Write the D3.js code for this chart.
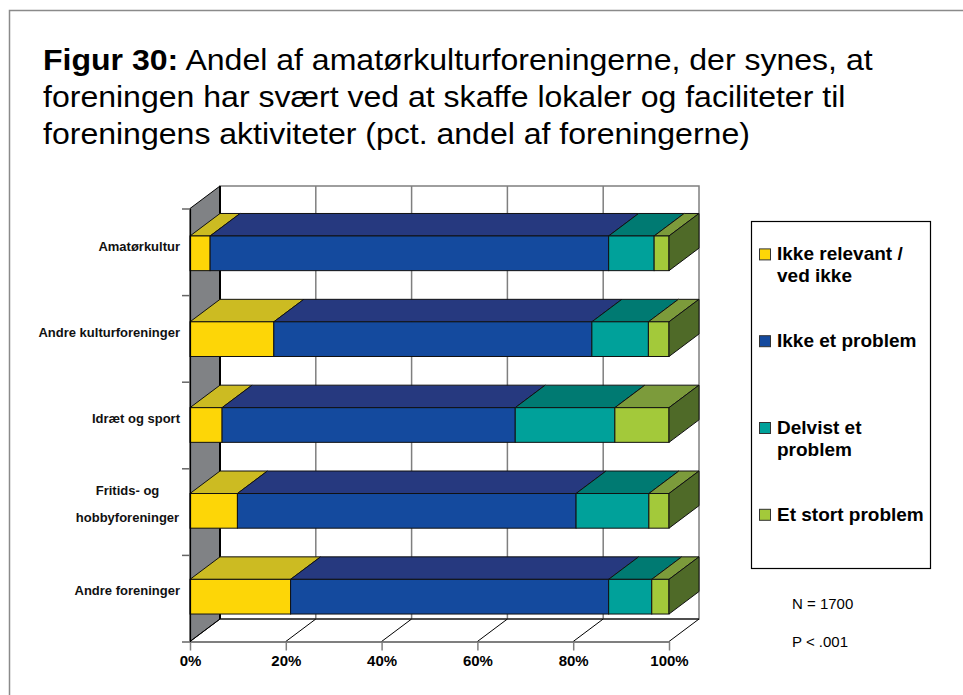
<!DOCTYPE html>
<html>
<head>
<meta charset="utf-8">
<script src="https://cdn.jsdelivr.net/npm/d3@7"></script>
<style>
  body { margin: 0; background: #fff; }
  svg { display: block; font-family: "Liberation Sans", Arial, sans-serif; }
</style>
</head>
<body>
<div id="chart"></div>
<script>
var width = 963;
var height = 695;

// data (pct.)
var categories = ["Amatørkultur", "Andre kulturforeninger", "Idræt og sport", "Fritids- og hobbyforeninger", "Andre foreninger"];
var categoryLines = [["Amatørkultur"], ["Andre kulturforeninger"], ["Idræt og sport"], ["Fritids- og", "hobbyforeninger"], ["Andre foreninger"]];
var seriesNames = ["Ikke relevant / ved ikke", "Ikke et problem", "Delvist et problem", "Et stort problem"];
var seriesLines = [["Ikke relevant /", "ved ikke"], ["Ikke et problem"], ["Delvist et", "problem"], ["Et stort problem"]];
var ikkeRelevant = [4.2, 17.5, 6.7, 9.9, 21.0];
var ikkeProblem = [83.2, 66.4, 61.2, 70.7, 66.4];
var delvistProblem = [9.5, 11.8, 20.8, 15.2, 9.0];
var stortProblem = [3.1, 4.3, 11.3, 4.2, 3.6];
var xTicks = [0, 20, 40, 60, 80, 100];

var frontColors = ["#fdd607", "#144a9e", "#00a19a", "#a3c93a"];
var topColors = ["#ccbb22", "#26397f", "#007a72", "#7c9b3b"];
var sideColor = "#4f6a28";
var wallColor = "#808285";

// 3d depth offset
var dx = 30, dy = -22.5;

var svg = d3.select("#chart").append("svg")
  .attr("width", width)
  .attr("height", height);

// outer frame
svg.append("rect")
  .attr("x", 9.5).attr("y", 10.5)
  .attr("width", 1000).attr("height", 1000)
  .attr("fill", "none")
  .attr("stroke", "#8a8a8a")
  .attr("stroke-width", 1.5);

// title (source text is a little wider than Arial, so stretch it)
var title = svg.append("text")
  .attr("transform", "translate(43,0) scale(1.105,1)")
  .attr("font-size", "29px")
  .attr("fill", "#000");
var t1 = title.append("tspan").attr("x", 0).attr("y", 70);
t1.append("tspan").attr("font-weight", "bold").text("Figur 30:");
t1.append("tspan").text(" Andel af amatørkulturforeningerne, der synes, at");
title.append("tspan").attr("x", 0).attr("y", 107.5)
  .text("foreningen har svært ved at skaffe lokaler og faciliteter til");
title.append("tspan").attr("x", 0).attr("y", 144)
  .text("foreningens aktiviteter (pct. andel af foreningerne)");

var xScale = d3.scaleLinear()
  .domain([0, 100])
  .range([190, 669]);
var yScale = d3.scaleBand()
  .domain(categories)
  .range([208.5, 641.5])
  .paddingInner(0.596)
  .paddingOuter(0.32);
var yEdge = d3.scaleLinear()
  .domain([0, categories.length])
  .range([208.5, 641.5]);

var y0 = yEdge(0), y1 = yEdge(categories.length);
var x0 = xScale(0), x1 = xScale(100);

// back wall
svg.append("rect")
  .attr("x", x0 + dx).attr("y", y0 + dy)
  .attr("width", x1 - x0).attr("height", y1 - y0)
  .attr("fill", "#fff")
  .attr("stroke", "#7f7f7f")
  .attr("stroke-width", 1.5);

svg.selectAll("line.grid")
  .data(xTicks.slice(1, -1))
  .enter().append("line")
    .attr("class", "grid")
    .attr("x1", function(d) { return xScale(d) + dx; })
    .attr("x2", function(d) { return xScale(d) + dx; })
    .attr("y1", y0 + dy)
    .attr("y2", y1 + dy)
    .attr("stroke", "#7f7f7f")
    .attr("stroke-width", 1.5);

// side wall
svg.append("path")
  .attr("d", "M" + x0 + "," + y0 + "L" + (x0 + dx) + "," + (y0 + dy) +
             "L" + (x0 + dx) + "," + (y1 + dy) + "L" + x0 + "," + y1 + "Z")
  .attr("fill", wallColor)
  .attr("stroke", "#000")
  .attr("stroke-width", 1);
svg.append("line")
  .attr("x1", x0 + dx).attr("x2", x0 + dx)
  .attr("y1", y0 + dy).attr("y2", y1 + dy)
  .attr("stroke", "#000").attr("stroke-width", 2);

// floor
svg.append("line")
  .attr("x1", x0 + dx).attr("x2", x1 + dx)
  .attr("y1", y1 + dy).attr("y2", y1 + dy)
  .attr("stroke", "#000").attr("stroke-width", 1.2);
svg.selectAll("line.floor")
  .data(xTicks)
  .enter().append("line")
    .attr("class", "floor")
    .attr("x1", function(d) { return xScale(d); })
    .attr("x2", function(d) { return xScale(d) + dx; })
    .attr("y1", y1)
    .attr("y2", y1 + dy)
    .attr("stroke", "#000")
    .attr("stroke-width", 1);

// stacked segments
var series = [ikkeRelevant, ikkeProblem, delvistProblem, stortProblem];
var rows = categories.map(function(c, i) {
  var row = {category: c};
  seriesNames.forEach(function(s, j) { row[s] = series[j][i]; });
  return row;
});
var stacked = d3.stack().keys(seriesNames)(rows);

var bh = yScale.bandwidth();

stacked.forEach(function(layer, j) {
  var g = svg.append("g");
  layer.forEach(function(d) {
    var cat = d.data.category;
    var xa = xScale(d[0]), xb = xScale(d[1]);
    var yt = yScale(cat), yb = yt + bh;
    // top face
    g.append("path")
      .attr("d", "M" + xa + "," + yt + "L" + (xa + dx) + "," + (yt + dy) +
                 "L" + (xb + dx) + "," + (yt + dy) + "L" + xb + "," + yt + "Z")
      .attr("fill", topColors[j])
      .attr("stroke", "#111")
      .attr("stroke-width", 1)
      .attr("stroke-linejoin", "round");
    // front face
    g.append("rect")
      .attr("x", xa).attr("y", yt)
      .attr("width", xb - xa).attr("height", bh)
      .attr("fill", frontColors[j])
      .attr("stroke", "#111")
      .attr("stroke-width", 1);
    // right side for the last segment
    if (j === seriesNames.length - 1) {
      g.append("path")
        .attr("d", "M" + xb + "," + yt + "L" + (xb + dx) + "," + (yt + dy) +
                   "L" + (xb + dx) + "," + (yb + dy) + "L" + xb + "," + yb + "Z")
        .attr("fill", sideColor)
        .attr("stroke", "#111")
        .attr("stroke-width", 1)
        .attr("stroke-linejoin", "round");
    }
  });
});

// axes
var xAxis = svg.append("g")
  .attr("transform", "translate(0," + y1 + ")")
  .call(d3.axisBottom(xScale).tickValues(xTicks)
    .tickFormat(function(d) { return d + "%"; })
    .tickSize(9).tickSizeOuter(0).tickPadding(5));
xAxis.select(".domain").attr("stroke", "#000").attr("stroke-width", 1.2);
xAxis.selectAll(".tick line").attr("stroke", "#808080").attr("stroke-width", 1.5);
xAxis.selectAll(".tick text")
  .attr("font-family", "'Liberation Sans', Arial, sans-serif")
  .attr("font-size", "15px")
  .attr("font-weight", "bold")
  .attr("fill", "#000");

var yAxis = svg.append("g")
  .attr("transform", "translate(" + x0 + ",0)")
  .call(d3.axisLeft(yEdge).tickValues(d3.range(categories.length + 1))
    .tickFormat("").tickSize(8).tickSizeOuter(0));
yAxis.select(".domain").attr("stroke", "#000").attr("stroke-width", 1.2);
yAxis.selectAll(".tick line").attr("stroke", "#666").attr("stroke-width", 1.5);

// category labels
categories.forEach(function(c, i) {
  var lines = categoryLines[i];
  var cy = yScale(c) + bh / 2;
  var text = svg.append("text")
    .attr("font-size", "13px")
    .attr("font-weight", "bold")
    .attr("fill", "#111");
  if (lines.length === 1) {
    text.attr("x", 180).attr("y", cy - 2)
      .attr("text-anchor", "end")
      .text(lines[0]);
  } else {
    text.attr("text-anchor", "middle");
    lines.forEach(function(l, k) {
      text.append("tspan")
        .attr("x", 127.5)
        .attr("y", cy - 16 + k * 27)
        .text(l);
    });
  }
});

// legend
svg.append("rect")
  .attr("x", 751.5).attr("y", 221.5)
  .attr("width", 179).attr("height", 347)
  .attr("fill", "#fff")
  .attr("stroke", "#000")
  .attr("stroke-width", 1.2);

var legendY = d3.scaleBand()
  .domain(seriesNames)
  .range([211, 558.2]);

seriesNames.forEach(function(s, j) {
  var cy = legendY(s) + legendY.bandwidth() / 2;
  svg.append("rect")
    .attr("x", 759.5).attr("y", cy - 5.5)
    .attr("width", 11).attr("height", 11)
    .attr("fill", frontColors[j])
    .attr("stroke", "#333")
    .attr("stroke-width", 1);
  var text = svg.append("text")
    .attr("font-size", "19px")
    .attr("font-weight", "bold")
    .attr("fill", "#000");
  seriesLines[j].forEach(function(l, k) {
    text.append("tspan")
      .attr("x", 777)
      .attr("y", cy + 6 + k * 22)
      .text(l);
  });
});

// notes
svg.append("text")
  .attr("x", 792).attr("y", 609)
  .attr("font-size", "15px")
  .attr("fill", "#000")
  .text("N = 1700");
svg.append("text")
  .attr("x", 792).attr("y", 646.5)
  .attr("font-size", "15px")
  .attr("fill", "#000")
  .text("P < .001");
</script>
</body>
</html>
